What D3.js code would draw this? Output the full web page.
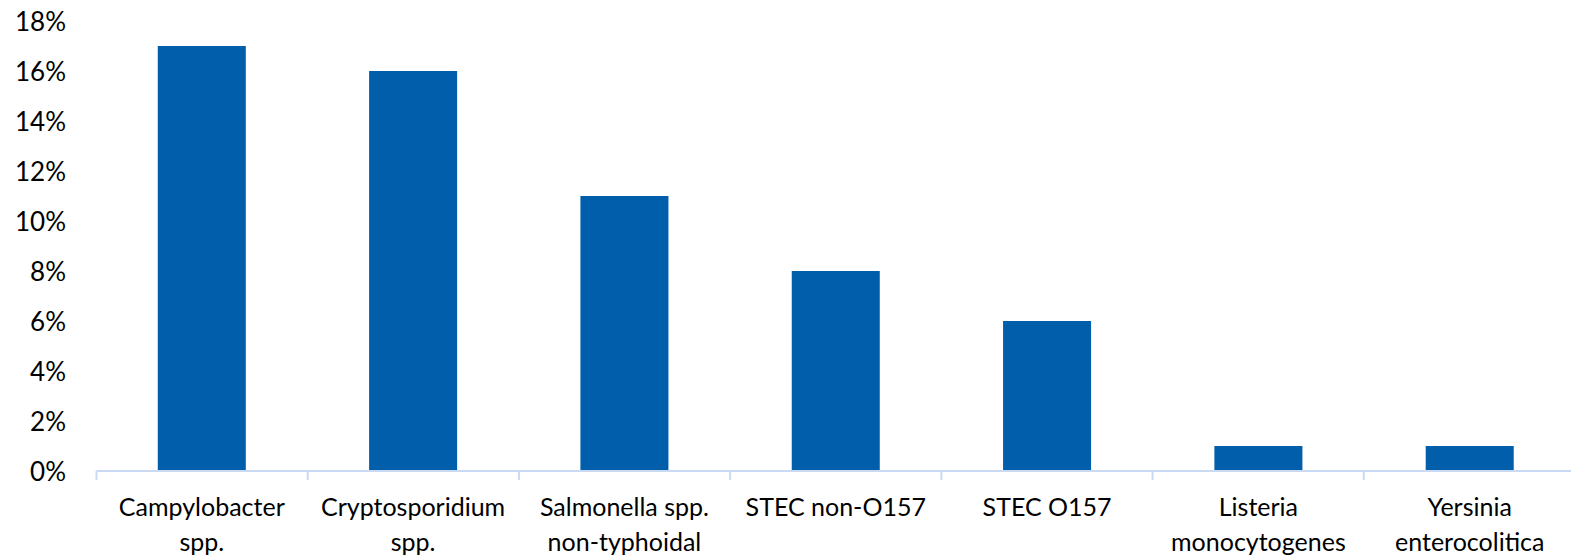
<!DOCTYPE html>
<html>
<head>
<meta charset="utf-8">
<script src="https://cdn.jsdelivr.net/npm/d3@7"></script>
<style>
	body { margin: 0; background: #fff; }
	svg text { font-family: Lato, "Open Sans", sans-serif; fill: #000; }
</style>
</head>
<body>
<div class="chart"></div>
<script>
var categories = [
	["Campylobacter", "spp."],
	["Cryptosporidium", "spp."],
	["Salmonella spp.", "non-typhoidal"],
	["STEC non-O157"],
	["STEC O157"],
	["Listeria", "monocytogenes"],
	["Yersinia", "enterocolitica"]
];
var values = [0.17, 0.16, 0.11, 0.08, 0.06, 0.01, 0.01];
var yTicks = [0, 0.02, 0.04, 0.06, 0.08, 0.10, 0.12, 0.14, 0.16, 0.18];

drawChart()

function drawChart() {
	var width = 1571, height = 555;
	var left = 96.5, right = 1575, top = 21, bottom = 471;

	var svg = d3.select(".chart")
				.append("svg")
				.attr("width", width)
				.attr("height", height);

	var x = d3.scaleBand()
				.domain(d3.range(categories.length))
				.range([left, right])
				.paddingInner(0.5835)
				.paddingOuter(0.29);

	var y = d3.scaleLinear()
				.domain([0, 0.18])
				.range([bottom, top]);

	// bars
	svg.selectAll("rect.bar")
		.data(values)
		.enter()
		.append("rect")
		.attr("class", "bar")
		.attr("x", function(d, i) { return x(i); })
		.attr("y", function(d) { return y(d); })
		.attr("width", x.bandwidth())
		.attr("height", function(d) { return y(0) - y(d); })
		.attr("fill", "#005EAA");

	// y axis labels, no line
	var yAxis = svg.append("g")
				.attr("transform", "translate(" + 66 + ",0)")
				.call(d3.axisLeft(y).tickValues(yTicks).tickSize(0).tickFormat(d3.format(".0%")));
	yAxis.select(".domain").remove();
	yAxis.selectAll("text")
		.attr("x", 0)
		.attr("dy", "0.36em")
		.style("font-size", "26px");

	// x axis line with category boundaries
	var n = categories.length;
	var bounds = d3.range(n + 1).map(function(i) { return left + i * (right - left) / n; });
	svg.append("line")
		.attr("x1", left).attr("x2", width)
		.attr("y1", bottom).attr("y2", bottom)
		.attr("stroke", "#C9DAF2")
		.attr("stroke-width", 2);
	svg.selectAll("line.tick")
		.data(bounds)
		.enter()
		.append("line")
		.attr("class", "tick")
		.attr("x1", function(d) { return d; })
		.attr("x2", function(d) { return d; })
		.attr("y1", bottom)
		.attr("y2", bottom + 9)
		.attr("stroke", "#C9DAF2")
		.attr("stroke-width", 2);

	// category labels
	var labels = svg.selectAll("text.cat")
		.data(categories)
		.enter()
		.append("text")
		.attr("class", "cat")
		.attr("text-anchor", "middle")
		.attr("x", function(d, i) { return x(i) + x.bandwidth() / 2; })
		.attr("y", 507)
		.style("font-size", "25px");
	labels.selectAll("tspan")
		.data(function(d) { return d; })
		.enter()
		.append("tspan")
		.attr("x", function() { return d3.select(this.parentNode).attr("x"); })
		.attr("dy", function(d, j) { return j == 0 ? "0.35em" : "35px"; })
		.text(function(d) { return d; });
}
</script>
</body>
</html>
